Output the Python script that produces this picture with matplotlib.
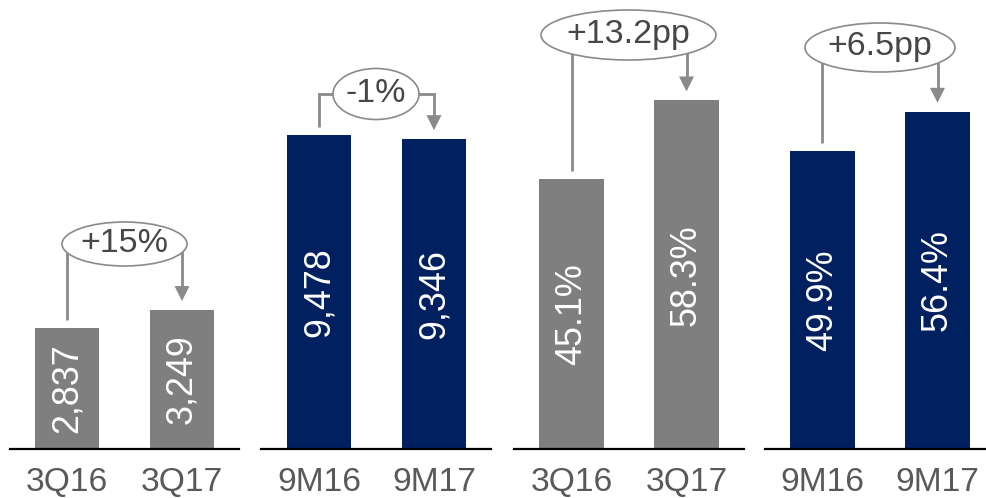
import matplotlib
matplotlib.use("Agg")
import matplotlib.pyplot as plt
from matplotlib.patches import Ellipse, Polygon
from matplotlib import font_manager

# ---------------- data ----------------
categories_1 = ["3Q16", "3Q17"]
values_1 = [2837, 3249]
change_1 = "+15%"

categories_2 = ["9M16", "9M17"]
values_2 = [9478, 9346]
change_2 = "-1%"

categories_3 = ["3Q16", "3Q17"]
values_3 = [45.1, 58.3]
change_3 = "+13.2pp"

categories_4 = ["9M16", "9M17"]
values_4 = [49.9, 56.4]
change_4 = "+6.5pp"

# ---------------- style / layout ----------------
GRAY = "#7f7f7f"
NAVY = "#002060"
LINE = "#8a8a8a"
TXT_LAB = "#595959"
TXT_CHG = "#474747"

names = {f.name for f in font_manager.fontManager.ttflist}
if "Liberation Sans Narrow" in names:
    NARROW = "Liberation Sans Narrow"
    nscale = 1.0
else:
    NARROW = "Liberation Sans"
    nscale = 0.86
REG = "Liberation Sans"

W, H = 987, 498
fig = plt.figure(figsize=(W / 100, H / 100), dpi=100)

panels = [
    (categories_1, values_1, change_1, GRAY, 10500, lambda v: f"{v:,.0f}"),
    (categories_2, values_2, change_2, NAVY, 13545, lambda v: f"{v:,.0f}"),
    (categories_3, values_3, change_3, GRAY, 75.1, lambda v: f"{v:.1f}%"),
    (categories_4, values_4, change_4, NAVY, 75.1, lambda v: f"{v:.1f}%"),
]
lefts_px = [9.5, 261.5, 514, 765]
axw_px = 230
base_px = 449
# ellipse (cx, cy, w, h) in pixels
ellipses = [(124.5, 244, 125, 44), (376, 94, 86, 51),
            (628.5, 35, 175, 50), (880, 47.5, 150, 49)]

ov = fig.add_axes([0, 0, 1, 1], zorder=5)
ov.set_xlim(0, W)
ov.set_ylim(H, 0)
ov.axis("off")

def to_px(ax, x, y):
    d = ax.transData.transform((x, y))
    return ov.transData.inverted().transform(d)

for (cats, vals, chg, col, ymax, fmt), lp, (ex, ey, ew, eh) in zip(panels, lefts_px, ellipses):
    ax = fig.add_axes([lp / W, (H - base_px) / H, axw_px / W, base_px / H])
    x = list(range(len(vals)))
    ax.bar(x, vals, width=0.565, color=col)
    ax.set_xlim(-0.5, 1.5)
    ax.set_ylim(0, ymax)
    for s in ["top", "left", "right"]:
        ax.spines[s].set_visible(False)
    ax.spines["bottom"].set_linewidth(1.6)
    ax.spines["bottom"].set_color("black")
    ax.set_yticks([])
    ax.set_xticks(x, labels=cats)
    ax.tick_params(axis="x", length=0, pad=13, labelsize=28 * nscale, colors=TXT_LAB)
    for t in ax.get_xticklabels():
        t.set_fontfamily(NARROW)
    ax.patch.set_visible(False)
    for xi, v in zip(x, vals):
        ax.text(xi, v / 2, fmt(v), rotation=90, ha="center", va="center",
                color="white", fontsize=30 * nscale, family=NARROW)

    x0, y0 = to_px(ax, 0, vals[0])
    x1, y1 = to_px(ax, 1, vals[1])
    tip = y1 - 9
    head = 15
    ov.plot([x0, x0, x1, x1], [y0 - 8, ey, ey, tip - head + 1], color=LINE, lw=2.0,
            solid_joinstyle="miter", solid_capstyle="butt", zorder=1)
    ov.add_patch(Polygon([(x1 - 7.5, tip - head), (x1 + 7.5, tip - head), (x1, tip)],
                         closed=True, facecolor=LINE, edgecolor="none", zorder=1))
    ov.add_patch(Ellipse((ex, ey), ew, eh, facecolor="white", edgecolor=LINE, lw=1.2, zorder=2))
    ov.text(ex, ey - 1, chg, ha="center", va="center", fontsize=24.5, color=TXT_CHG,
            family=REG, zorder=3)

fig.savefig("out.png", dpi=100)
